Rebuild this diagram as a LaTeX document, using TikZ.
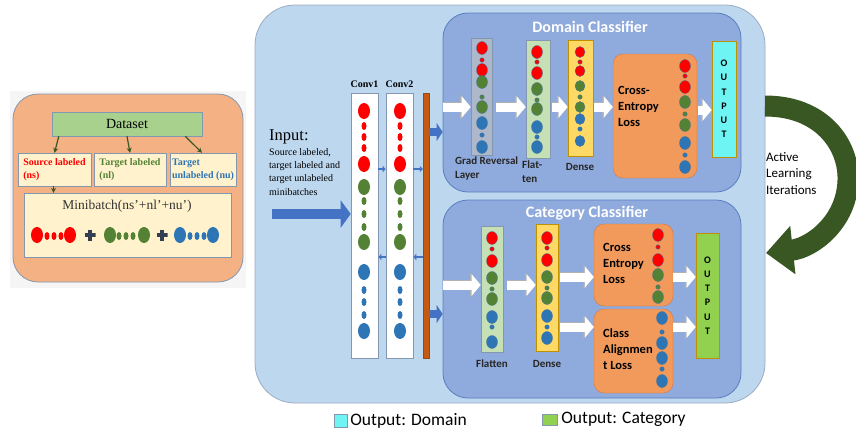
\documentclass[tikz,border=0pt]{standalone}
\usepackage{fontspec}
\setmainfont{Liberation Serif}
\newfontfamily\calibrifont{Carlito}
\usetikzlibrary{arrows.meta, positioning, shapes.geometric}

\definecolor{dotred}{HTML}{FF0000}
\definecolor{dotgreen}{HTML}{548235}
\definecolor{dotblue}{HTML}{2E75B6}
\definecolor{dotedge}{HTML}{41719C}
\definecolor{lightorange}{HTML}{F4B183}
\definecolor{paleyellow}{HTML}{FFF2CC}
\definecolor{dsgreen}{HTML}{A9D18E}
\definecolor{slate}{HTML}{8497B0}
\definecolor{mainblue}{HTML}{BDD7EE}
\definecolor{panelblue}{HTML}{8FAADC}
\definecolor{paneledge}{HTML}{5A7EC0}
\definecolor{arrowblue}{HTML}{4472C4}
\definecolor{barorange}{HTML}{C55A11}
\definecolor{greyblue}{HTML}{ADB9CA}
\definecolor{flatgreen}{HTML}{C5E0B4}
\definecolor{densegold}{HTML}{FFD966}
\definecolor{goldedge}{HTML}{BF9000}
\definecolor{lossorange}{HTML}{F19A5B}
\definecolor{lossedge}{HTML}{D9783A}
\definecolor{outcyan}{HTML}{6FF4F4}
\definecolor{outgreen}{HTML}{92D050}
\definecolor{darkgreen}{HTML}{385723}
\definecolor{plusnavy}{HTML}{333F50}

\begin{document}
\begin{tikzpicture}[
  x=1pt, y=-1pt,
  box/.style={draw=slate, rectangle, inner sep=0pt},
  colbox/.style={box, line width=0.6pt},
  panel/.style={draw=paneledge, fill=panelblue, rounded corners=25pt, line width=0.8pt, inner sep=0pt},
  lossbox/.style={draw=lossedge, fill=lossorange, rounded corners=10pt, inner sep=0pt},
  outbox/.style={draw=goldedge, rectangle, inner sep=0pt, line width=0.6pt, align=center, font=\calibrifont\bfseries\fontsize{10}{14.2}\selectfont},
  setbox/.style={box, fill=paleyellow, minimum height=33pt, align=left, font=\bfseries\fontsize{10}{13}\selectfont},
  bigdot/.style={ellipse, inner sep=0pt, minimum width=11pt, minimum height=13pt, draw=dotedge, line width=0.3pt},
  smalldot/.style={ellipse, inner sep=0pt, minimum width=4.5pt, minimum height=4.5pt, draw=dotedge, line width=0.3pt},
  convbig/.style={ellipse, inner sep=0pt, minimum width=12pt, minimum height=16pt},
  convsmall/.style={ellipse, inner sep=0pt, minimum width=5pt, minimum height=8pt},
  plussign/.style={minimum size=11pt, inner sep=0pt, path picture={\draw[plusnavy, line width=3.5pt] (path picture bounding box.west) -- (path picture bounding box.east) (path picture bounding box.north) -- (path picture bounding box.south);}},
  title/.style={font=\calibrifont\bfseries\fontsize{16}{18}\selectfont, text=white, inner sep=0pt},
  lbl/.style={font=\calibrifont\bfseries\fontsize{11}{14}\selectfont, text=black!85, inner sep=0pt},
  losstxt/.style={font=\calibrifont\bfseries\fontsize{12.5}{16}\selectfont, align=left, inner sep=0pt, anchor=north west},
  legend/.style={font=\calibrifont\fontsize{17.5}{20}\selectfont, inner sep=0pt, anchor=west},
  whitearrow/.style={-{Triangle[length=9pt, width=21pt]}, line width=9pt, white, preaction={draw=gray!60, line width=10.5pt, -{Triangle[length=10.5pt, width=24pt]}}},
  blockarrow/.style={-{Triangle[length=6pt, width=18pt]}, line width=8pt, arrowblue},
  tinyarrow/.style={-{Triangle[length=3pt, width=6pt]}, line width=2.5pt, arrowblue},
  garrow/.style={-{Stealth[length=5pt, width=5pt]}, line width=1.2pt, darkgreen}
]
\useasboundingbox (0,0) rectangle (856,437);

% Left: dataset and minibatch
\fill[gray!8] (10,91) rectangle (246,288);
\node[box, fill=lightorange, rounded corners=25pt, minimum width=230pt, minimum height=188pt, line width=0.8pt] (setpanel) at (128,188) {};
\node[box, fill=dsgreen, minimum width=150pt, minimum height=24pt, font=\fontsize{14}{16}\selectfont] (dataset) at (127,124) {Dataset};
\node[setbox, minimum width=73pt, text=dotred] (src) at (54.5,169.5) {Source labeled\\(ns)};
\node[setbox, minimum width=72pt, text=dotgreen] (tgl) at (130,169.5) {Target labeled\\(nl)};
\node[setbox, minimum width=66pt, text=dotblue] (tgu) at (203,169.5) {Target\\unlabeled (nu)};
\node[box, fill=paleyellow, minimum width=207pt, minimum height=64pt] (minibatch) at (127.5,225) {};
\node[font=\fontsize{13.5}{16}\selectfont, text=black!80, inner sep=0pt] (mbtitle) at (127,206) {Minibatch(ns’+nl’+nu’)};

\draw[garrow] ([xshift=7pt]dataset.south west) -- (src.north);
\draw[garrow] (dataset.south) -- (tgl.north);
\draw[garrow] ([xshift=-17pt]dataset.south east) -- ([xshift=-1pt]tgu.north);
\draw[garrow] ([xshift=-1pt]src.south) -- ([xshift=-1pt]src.south |- minibatch.north);

\foreach \c/\xa/\xb/\xc/\xd/\xe in {dotred/37/47/54/61/70, dotgreen/110/119/126/133/144, dotblue/180/190/197/204/213} {
  \node[convbig, fill=\c] (mb-\c-1) at (\xa,235) {};
  \node[convsmall, fill=\c] (mb-\c-2) at (\xb,236) {};
  \node[convsmall, fill=\c] (mb-\c-3) at (\xc,236) {};
  \node[convsmall, fill=\c] (mb-\c-4) at (\xd,236) {};
  \node[convbig, fill=\c] (mb-\c-5) at (\xe,235) {};
}
\node[plussign] (plus1) at (90,235) {};
\node[plussign] (plus2) at (162,235) {};

% Main panel
\node[box, draw=slate!80, fill=mainblue, rounded corners=40pt, minimum width=510pt, minimum height=398pt, line width=0.8pt] (mainpanel) at (510,204) {};
\node[panel, minimum width=298pt, minimum height=179pt] (domain) at (592,102.5) {};
\node[panel, minimum width=298pt, minimum height=198pt] (category) at (592,299) {};
\node[title] (domtitle) at (590,27) {Domain Classifier};
\node[title] (cattitle) at (587,213) {Category Classifier};

% Conv layers
\node[colbox, fill=white, minimum width=27pt, minimum height=265pt] (conv1) at (364.5,225.5) {};
\node[colbox, fill=white, minimum width=27pt, minimum height=265pt] (conv2) at (399.5,225.5) {};
\node[box, draw=barorange!80!black, fill=barorange, minimum width=6pt, minimum height=265pt] (bar) at (426,225.5) {};
\node[font=\bfseries\fontsize{10}{12}\selectfont, above=2pt of conv1] (conv1lbl) {Conv1};
\node[font=\bfseries\fontsize{10}{12}\selectfont, above=2pt of conv2] (conv2lbl) {Conv2};

\foreach \x [count=\k] in {364,400} {
  \foreach \c/\ya/\yb/\yc/\yd/\ye in {dotred/111/126/137/148/164, dotgreen/187/201/214/227/242, dotblue/272/290/302/315/331} {
    \node[convbig, fill=\c] (cv\k-\c-1) at (\x,\ya) {};
    \node[convsmall, fill=\c] (cv\k-\c-2) at (\x,\yb) {};
    \node[convsmall, fill=\c] (cv\k-\c-3) at (\x,\yc) {};
    \node[convsmall, fill=\c] (cv\k-\c-4) at (\x,\yd) {};
    \node[convbig, fill=\c] (cv\k-\c-5) at (\x,\ye) {};
  }
}

% Input
\node[anchor=west, inner sep=0pt, font=\fontsize{16.5}{18}\selectfont] (inputhd) at (269,137) {Input:};
\node[anchor=north west, align=left, inner sep=0pt, font=\fontsize{10}{13.3}\selectfont] (inputtxt) at (269,148) {Source labeled,\\target labeled and\\target unlabeled\\minibatches};
\coordinate (inputtail) at (272,214);
\draw[-{Triangle[length=10pt, width=27pt]}, line width=10pt, arrowblue] (inputtail) -- (inputtail -| conv1.west);

\coordinate (fwd) at (0,169);
\coordinate (bwd) at (0,257);
\draw[tinyarrow] (conv1.east |- fwd) -- (conv2.west |- fwd);
\draw[tinyarrow] (conv2.east |- fwd) -- (bar.west |- fwd);
\draw[tinyarrow] (conv2.west |- bwd) -- (conv1.east |- bwd);
\draw[tinyarrow] (bar.west |- bwd) -- (conv2.east |- bwd);

\coordinate (toprow) at (0,132);
\coordinate (botrow) at (0,314);
\draw[blockarrow] (bar.east |- toprow) -- (domain.west |- toprow);
\draw[blockarrow] (bar.east |- botrow) -- (category.west |- botrow);

% Domain classifier
\node[colbox, fill=greyblue, minimum width=21pt, minimum height=117pt] (grl) at (481.5,96.5) {};
\node[colbox, fill=flatgreen, minimum width=24pt, minimum height=118pt] (dflat) at (538,99) {};
\node[colbox, draw=goldedge, fill=densegold, minimum width=25pt, minimum height=116pt] (ddense) at (580.5,98) {};
\node[lossbox, minimum width=84pt, minimum height=124pt] (dloss) at (655,116) {};
\node[outbox, fill=outcyan, minimum width=24pt, minimum height=116pt] (dout) at (724,99) {O\\U\\T\\P\\U\\T};

\foreach \c/\ya/\yb/\yc in {dotred/48/60/70, dotgreen/82/97/107, dotblue/123/135/147} {
  \node[bigdot, fill=\c] (grl-\c-1) at (482,\ya) {};
  \node[smalldot, fill=\c] (grl-\c-2) at (482,\yb) {};
  \node[bigdot, fill=\c] (grl-\c-3) at (482,\yc) {};
}
\foreach \c/\ya/\yb/\yc in {dotred/52/62/73, dotgreen/89/100/109, dotblue/127/137/147} {
  \node[bigdot, fill=\c] (dflat-\c-1) at (537,\ya) {};
  \node[smalldot, fill=\c] (dflat-\c-2) at (537,\yb) {};
  \node[bigdot, fill=\c] (dflat-\c-3) at (537,\yc) {};
}
\foreach \c/\ya/\yb/\yc in {dotred/52/62/71, dotgreen/86/97/107, dotblue/119/129/141} {
  \node[bigdot, fill=\c, minimum width=10pt, minimum height=11pt] (ddense-\c-1) at (580,\ya) {};
  \node[smalldot, fill=\c] (ddense-\c-2) at (580,\yb) {};
  \node[bigdot, fill=\c, minimum width=10pt, minimum height=11pt] (ddense-\c-3) at (580,\yc) {};
}
\foreach \c/\ya/\yb/\yc in {dotred/66/76/87, dotgreen/102/114/125, dotblue/143/155/167} {
  \node[bigdot, fill=\c] (dloss-\c-1) at (685,\ya) {};
  \node[smalldot, fill=\c] (dloss-\c-2) at (685,\yb) {};
  \node[bigdot, fill=\c] (dloss-\c-3) at (685,\yc) {};
}

\node[lbl, align=left, anchor=north west] (grllbl) at (455,157) {Grad Reversal\\Layer};
\node[lbl, align=left, anchor=north west] (dflatlbl) at (522,161) {Flat-\\ten};
\node[lbl] (ddenselbl) at (580,167) {Dense};
\node[losstxt] (dlosstxt) at (618,86) {Cross-\\Entropy\\Loss};

\coordinate (drow) at (0,107);
\coordinate (drow2) at (0,110);
\draw[whitearrow] (domain.west |- drow) -- (grl.west |- drow);
\draw[whitearrow, shorten <=4pt] (grl.east |- drow) -- (dflat.west |- drow);
\draw[whitearrow, shorten <=2pt] (dflat.east |- drow) -- (ddense.west |- drow);
\draw[whitearrow, shorten <=1pt] (ddense.east |- drow) -- (dloss.west |- drow);
\draw[whitearrow, shorten <=1pt] (dloss.east |- drow2) -- (dout.west |- drow2);

% Category classifier
\node[colbox, fill=flatgreen, minimum width=22pt, minimum height=126pt] (cflat) at (492,289) {};
\node[colbox, draw=goldedge, fill=densegold, minimum width=22pt, minimum height=127pt] (cdense) at (547,287.5) {};
\node[lossbox, minimum width=79pt, minimum height=82pt] (closs) at (633.5,265) {};
\node[lossbox, minimum width=79pt, minimum height=84pt] (calign) at (633.5,351) {};
\node[outbox, fill=outgreen, minimum width=23pt, minimum height=125pt] (cout) at (707.5,295.5) {O\\U\\T\\P\\U\\T};

\foreach \c/\ya/\yb/\yc in {dotred/238/249/261, dotgreen/278/289/299, dotblue/317/327/342} {
  \node[bigdot, fill=\c] (cflat-\c-1) at (492,\ya) {};
  \node[smalldot, fill=\c] (cflat-\c-2) at (492,\yb) {};
  \node[bigdot, fill=\c] (cflat-\c-3) at (492,\yc) {};
}
\foreach \c/\ya/\yb/\yc in {dotred/238/248/260, dotgreen/277/288/298, dotblue/316/327/338} {
  \node[bigdot, fill=\c] (cdense-\c-1) at (547,\ya) {};
  \node[smalldot, fill=\c] (cdense-\c-2) at (547,\yb) {};
  \node[bigdot, fill=\c] (cdense-\c-3) at (547,\yc) {};
}
\foreach \c/\ya/\yb/\yc in {dotred/235/247/260, dotgreen/275/287/297} {
  \node[bigdot, fill=\c] (closs-\c-1) at (658,\ya) {};
  \node[smalldot, fill=\c] (closs-\c-2) at (658,\yb) {};
  \node[bigdot, fill=\c] (closs-\c-3) at (658,\yc) {};
}
\foreach \ya/\yb/\yc [count=\i] in {318/332/343, 358/369/381} {
  \node[bigdot, fill=dotblue] (calign-\i-1) at (662,\ya) {};
  \node[smalldot, fill=dotblue] (calign-\i-2) at (662,\yb) {};
  \node[bigdot, fill=dotblue] (calign-\i-3) at (662,\yc) {};
}

\node[lbl] (cflatlbl) at (492,364) {Flatten};
\node[lbl] (cdenselbl) at (547,364) {Dense};
\node[losstxt] (closstxt) at (603,243) {Cross\\Entropy\\Loss};
\node[losstxt] (calintxt) at (603,329) {Class\\Alignmen\\t Loss};

\coordinate (crow) at (0,285);
\coordinate (crow1) at (0,277);
\coordinate (crow2) at (0,327);
\draw[whitearrow] (category.west |- crow) -- (cflat.west |- crow);
\draw[whitearrow, shorten <=4pt] (cflat.east |- crow) -- (cdense.west |- crow);
\draw[whitearrow, shorten <=2pt] (cdense.east |- crow1) -- (closs.west |- crow1);
\draw[whitearrow, shorten <=2pt] (cdense.east |- crow2) -- (calign.west |- crow2);
\draw[whitearrow] (closs.east |- crow1) -- (cout.west |- crow1);
\draw[whitearrow] (calign.east |- crow2) -- (cout.west |- crow2);

% Active learning loop
\coordinate (alstart) at (765,106);
\coordinate (alend) at (766,253);
\draw[line width=21pt, darkgreen, -{Triangle[length=27pt, width=47pt]}] (alstart) .. controls (822,106) and (849,145) .. (848,180) .. controls (847,222) and (812,248) .. (alend);
\node[anchor=north west, align=left, inner sep=0pt, font=\calibrifont\fontsize{13}{16.5}\selectfont] (altxt) at (766,152) {Active\\Learning\\Iterations};

% Legend
\node[box, fill=outcyan, minimum width=13pt, minimum height=13pt] (keydom) at (340.5,420.5) {};
\node[legend, right=3pt of keydom] (keydomtxt) {Output: Domain};
\node[box, fill=outgreen, minimum width=15pt, minimum height=11pt] (keycat) at (549.5,419.5) {};
\node[legend, right=4pt of keycat] (keycattxt) {Output: Category};
\end{tikzpicture}
\end{document}
